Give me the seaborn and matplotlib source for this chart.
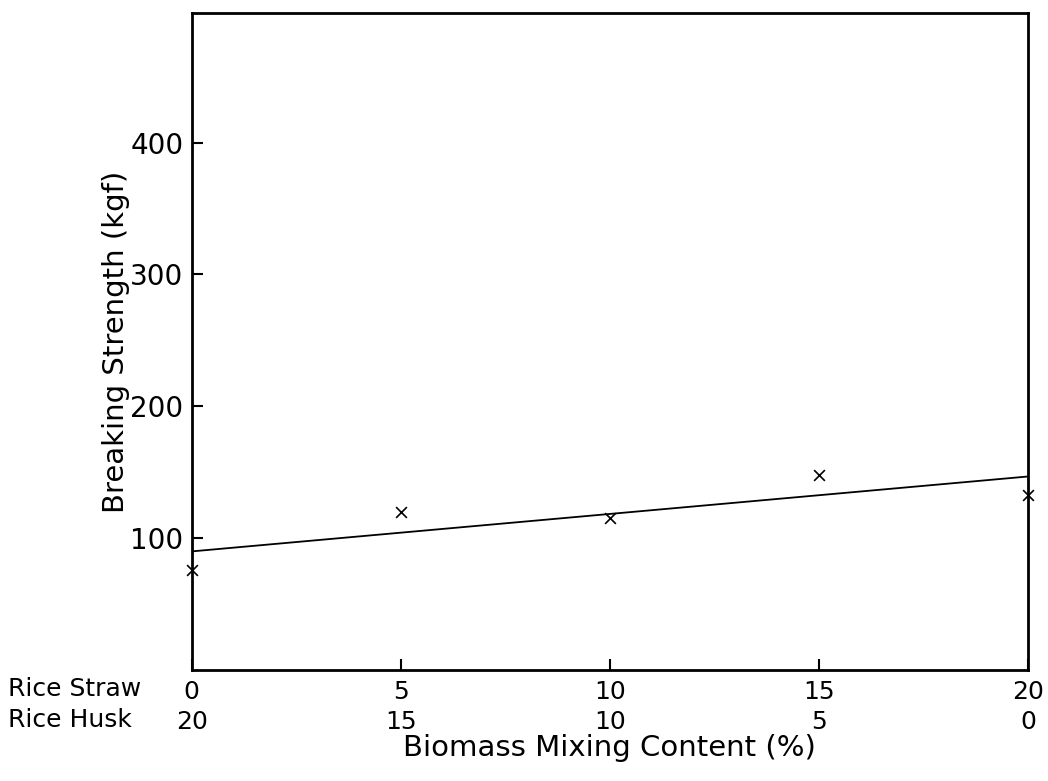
import numpy as np
import pandas as pd
import seaborn as sns
import matplotlib.pyplot as plt

# data
rice_straw = [0, 5, 10, 15, 20]
rice_husk = [20, 15, 10, 5, 0]
strength = [76, 120, 115, 148, 133]
y_ticks = [100, 200, 300, 400]

df = pd.DataFrame({"straw": rice_straw, "strength": strength})

sns.set_style("ticks")
plt.rcParams['font.family'] = ['DejaVu Sans']
plt.rcParams['text.color'] = 'black'
plt.rcParams['axes.labelcolor'] = 'black'
plt.rcParams['xtick.color'] = 'black'
plt.rcParams['ytick.color'] = 'black'

fig = plt.figure(figsize=(10.48, 7.81), dpi=100)
ax = fig.add_axes([0.183, 0.142, 0.798, 0.841])

# least squares line plus the measured points
sns.regplot(data=df, x="straw", y="strength", ci=None, ax=ax,
            marker="x", color="black",
            scatter_kws={"s": 60, "linewidths": 1.2, "clip_on": False, "alpha": 1},
            line_kws={"linewidth": 1.3}, truncate=True)

ax.set_xlim(0, 20)
ax.set_ylim(0, 498)

ax.set_yticks(y_ticks)
ax.set_yticklabels([str(v) for v in y_ticks], fontsize=20)
ax.set_xticks(rice_straw)
ax.set_xticklabels([f"{s}\n{h}" for s, h in zip(rice_straw, rice_husk)],
                   fontsize=18, linespacing=1.35)
ax.tick_params(axis="both", direction="in", length=8, width=1.5, pad=6)
ax.tick_params(axis="x", pad=7)

for sp in ax.spines.values():
    sp.set_linewidth(2)
    sp.set_color("black")

ax.set_ylabel("Breaking Strength (kgf)", fontsize=21, labelpad=0)
ax.set_xlabel("Biomass Mixing Content (%)", fontsize=21, labelpad=0)

# row captions left of the tick labels
fig.text(0.008, 0.118, "Rice Straw", fontsize=18, va="center", ha="left")
fig.text(0.008, 0.078, "Rice Husk", fontsize=18, va="center", ha="left")

fig.savefig("out.png", dpi=100)
